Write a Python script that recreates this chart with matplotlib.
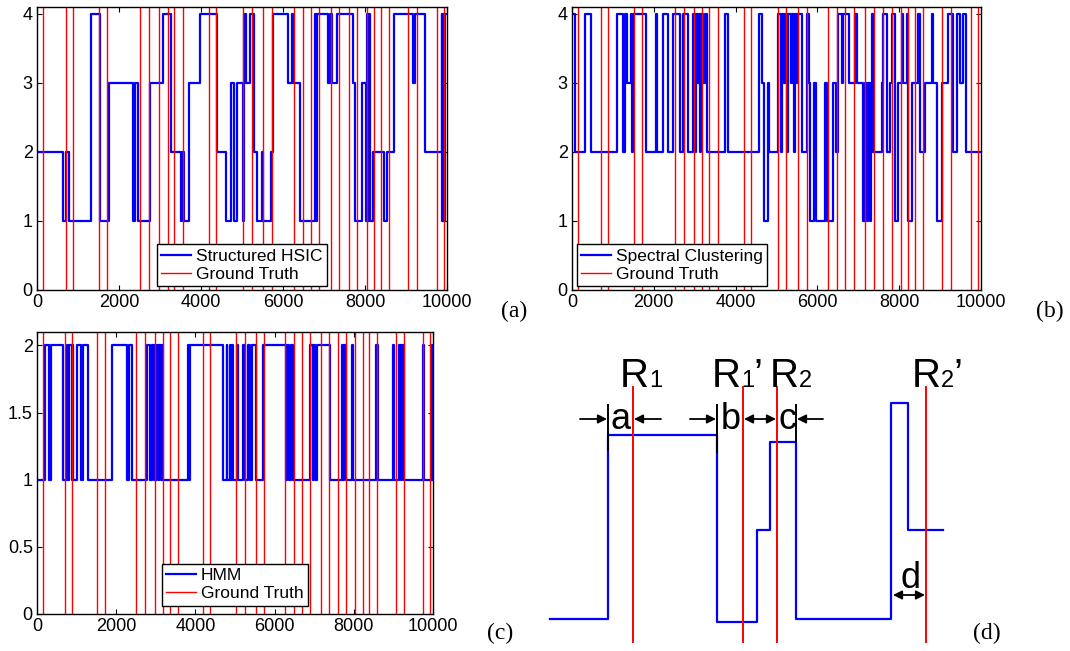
import numpy as np
import matplotlib
matplotlib.use('Agg')
import matplotlib.pyplot as plt

plt.rcParams['font.family'] = ['Liberation Sans', 'DejaVu Sans']

# ground truth change points (same in a, b, c)
truth = [154, 707, 886, 1520, 1715, 2512, 2732, 2976, 3188, 3350, 3569, 4203, 4366,
         5032, 5244, 5520, 5740, 6268, 6480, 6683, 6886, 7171, 7374, 7610, 7813,
         8041, 8220, 8390, 8578, 9056, 9260, 9748, 9930]

# (a) Structured HSIC: change points and state after each change
hsic_t = [0, 642, 700, 780, 1317, 1544, 1764, 2333, 2398, 2471, 2756, 3081, 3268, 3504,
          3544, 3593, 3715, 3975, 4382, 4609, 4731, 4796, 4886, 5032, 5060, 5100, 5195,
          5293, 5374, 5496, 5520, 5699, 5764, 6130, 6211, 6252, 6415, 6781, 6800, 6830,
          7106, 7146, 7187, 7309, 7716, 7756, 7919, 8024, 8057, 8073, 8100, 8120, 8203,
          8472, 8529, 8715, 9179, 9220, 9463, 9870, 9890, 9910, 9930, 9950]
hsic_v = [2, 1, 2, 1, 4, 1, 3, 1, 3, 1, 3, 4, 2, 1,
          2, 1, 3, 4, 2, 1, 3, 1, 3, 1, 4, 3, 4,
          2, 1, 2, 1, 2, 4, 3, 4, 3, 1, 4, 1, 4,
          3, 4, 3, 4, 3, 1, 3, 1, 4, 1, 4, 1, 2,
          1, 2, 4, 3, 4, 2, 4, 1, 4, 1, 4]

# (b) Spectral Clustering
spec_t = [0, 74, 318, 457, 1109, 1255, 1296, 1337, 1443, 1476, 1500, 1810, 2054, 2087,
          2217, 2356, 2462, 2641, 2706, 2828, 2951, 3000, 3030, 3070, 3100, 3130, 3160,
          3200, 3240, 3293, 3741, 3823, 4581, 4638, 4695, 4801, 4825, 5045, 5100, 5130,
          5180, 5210, 5260, 5290, 5350, 5380, 5420, 5450, 5500, 5530, 5616, 5754, 5803,
          5820, 5917, 5966, 6186, 6227, 6374, 6455, 6512, 6594, 6618, 6781, 6920, 6961,
          7124, 7164, 7205, 7246, 7287, 7311, 7327, 7368, 7572, 7613, 7710, 7776, 7816,
          7898, 7979, 8061, 8102, 8183, 8224, 8305, 8468, 8509, 8631, 8794, 8835, 8917,
          9039, 9202, 9324, 9406, 9487, 9569, 9634]
spec_v = [4, 2, 4, 2, 4, 2, 4, 3, 4, 2, 4, 2, 4, 2,
          4, 2, 4, 2, 4, 2, 4, 2, 4, 3, 4, 2, 4,
          3, 4, 2, 4, 2, 4, 3, 1, 3, 2, 4, 2, 4,
          3, 4, 2, 4, 3, 4, 2, 4, 3, 4, 2, 4, 3,
          1, 3, 1, 3, 1, 3, 2, 4, 3, 4, 3, 4, 3,
          1, 3, 1, 3, 1, 3, 4, 2, 3, 4, 2, 3, 4,
          1, 3, 4, 3, 4, 1, 3, 4, 2, 3, 4, 3, 1,
          3, 4, 2, 4, 3, 4, 2]

# (c) HMM
hmm_t = [0, 202, 311, 353, 648, 766, 791, 817, 876, 901, 918, 1019, 1103, 1153, 1297,
         1886, 2265, 2332, 2391, 2770, 2850, 2900, 2950, 2980, 3010, 3040, 3070, 3090,
         3120, 3150, 3190, 3823, 3848, 3873, 4690, 4791, 4808, 4875, 4900, 4917, 4960,
         5050, 5070, 5210, 5253, 5338, 5380, 5422, 5540, 5717, 6288, 6322, 6372, 6406,
         6457, 6894, 6962, 6979, 7021, 7063, 7400, 7694, 7720, 7753, 7804, 7947, 7989,
         8562, 8621, 8983, 9016, 9151, 9185, 9210, 9269, 9740, 9774, 9968]
hmm_v = [1, 2, 1, 2, 1, 2, 1, 2, 1, 2, 1, 2, 1, 2, 1,
         2, 1, 2, 1, 2, 1, 2, 1, 2, 1, 2, 1, 2,
         1, 2, 1, 2, 1, 2, 1, 2, 1, 2, 1, 2, 1,
         2, 1, 2, 1, 2, 1, 2, 1, 2, 1, 2, 1, 2,
         1, 2, 1, 2, 1, 2, 1, 2, 1, 2, 1, 2, 1,
         2, 1, 2, 1, 2, 1, 2, 1, 2, 1, 2]

# (d) schematic, in picture units
sk_x = [550, 608, 717, 757, 770, 796, 891, 908, 943]
sk_y = [619, 435, 622, 530, 442, 619, 403, 530]
sk_truth = [633, 743, 777, 926]
sk_sub = ['1', '1', '2', '2']
sk_prime = ['', '’', '', '’']
sk_label_x = [620, 712, 770, 912]

blue = '#0000ff'
red = '#ff0000'
tickfs = 13
legendfs = 12.5
panelfs = 17

fig = plt.figure(figsize=(10.7, 6.51), dpi=100)


def panel(rect, t, v, ymax, yticks, name):
    ax = fig.add_axes(rect)
    tt = list(t) + [10000]
    vv = list(v) + [v[-1]]
    ax.step(tt, vv, where='post', color=blue, lw=1.6, label=name)
    for i, g in enumerate(truth):
        ax.axvline(g, color=red, lw=1.0, label='Ground Truth' if i == 0 else None)
    ax.set_xlim(0, 10000)
    ax.set_ylim(0, ymax)
    ax.set_xticks(np.arange(0, 10001, 2000))
    ax.set_yticks(yticks)
    ax.tick_params(direction='in', top=True, right=True, length=3.5, width=0.8,
                   labelsize=tickfs, pad=3)
    for s in ax.spines.values():
        s.set_linewidth(1.0)
    return ax


W, H = 1070.0, 651.0
ax1 = panel([37 / W, 1 - 290 / H, 410 / W, 283 / H], hsic_t, hsic_v, 4.1,
            [0, 1, 2, 3, 4], 'Structured HSIC')
ax2 = panel([572 / W, 1 - 290 / H, 409 / W, 283 / H], spec_t, spec_v, 4.1,
            [0, 1, 2, 3, 4], 'Spectral Clustering')
ax3 = panel([37 / W, 1 - 614 / H, 396 / W, 282 / H], hmm_t, hmm_v, 2.1,
            [0, 0.5, 1, 1.5, 2], 'HMM')
ax3.set_yticklabels(['0', '0.5', '1', '1.5', '2'])

legkw = dict(fontsize=legendfs, fancybox=False, edgecolor='k', framealpha=1,
             handlelength=1.7, handletextpad=0.3, borderpad=0.25, labelspacing=0.15,
             borderaxespad=0)
ax1.legend(loc='lower center', bbox_to_anchor=(0.5, 0.014), **legkw).get_frame().set_linewidth(1.0)
ax2.legend(loc='lower left', bbox_to_anchor=(0.012, 0.014), **legkw).get_frame().set_linewidth(1.0)
ax3.legend(loc='lower center', bbox_to_anchor=(0.5, 0.03), **legkw).get_frame().set_linewidth(1.0)

fig.text(514 / W, 1 - 311 / H, '(a)', family='Liberation Serif', fontsize=panelfs,
         ha='center', va='center')
fig.text(1050 / W, 1 - 311 / H, '(b)', family='Liberation Serif', fontsize=panelfs,
         ha='center', va='center')
fig.text(500 / W, 1 - 633 / H, '(c)', family='Liberation Serif', fontsize=panelfs,
         ha='center', va='center')
fig.text(987 / W, 1 - 633 / H, '(d)', family='Liberation Serif', fontsize=panelfs,
         ha='center', va='center')

# (d) schematic
axd = fig.add_axes([540 / W, 0, 530 / W, 321 / H])
axd.set_xlim(540, 1070)
axd.set_ylim(651, 330)
axd.axis('off')
axd.step(sk_x, sk_y + [sk_y[-1]], where='post', color=blue, lw=1.6)
for g in sk_truth:
    axd.plot([g, g], [387, 642], color=red, lw=1.4)
for sub, pr, x in zip(sk_sub, sk_prime, sk_label_x):
    axd.text(x, 387, 'R', fontsize=29, ha='left', va='baseline')
    axd.text(x + 29, 387, sub, fontsize=17, ha='left', va='baseline')
    if pr:
        axd.text(x + 41, 387, pr, fontsize=29, ha='left', va='baseline')

# interval markers
for x, y0, y1 in [(608, 405, 450), (717, 405, 452), (796, 405, 442)]:
    axd.plot([x, x], [y0, y1], color='k', lw=1.4)
arr = dict(arrowstyle='-|>', color='k', lw=1.3, mutation_scale=13, shrinkA=0, shrinkB=0)
arr2 = dict(arrowstyle='<|-|>', color='k', lw=1.3, mutation_scale=13, shrinkA=0, shrinkB=0)
axd.annotate('', xy=(607, 419), xytext=(580, 419), arrowprops=arr)
axd.annotate('', xy=(634, 419), xytext=(661, 419), arrowprops=arr)
axd.annotate('', xy=(716, 419), xytext=(690, 419), arrowprops=arr)
axd.annotate('', xy=(744, 419), xytext=(776, 419), arrowprops=arr2)
axd.annotate('', xy=(797, 419), xytext=(823, 419), arrowprops=arr)
axd.annotate('', xy=(893, 595), xytext=(925, 595), arrowprops=arr2)
for lab, x, y in [('a', 621, 429), ('b', 731, 429), ('c', 787, 429), ('d', 911, 588)]:
    axd.text(x, y, lab, fontsize=26, ha='center', va='baseline')

fig.savefig('out.png', dpi=100)
